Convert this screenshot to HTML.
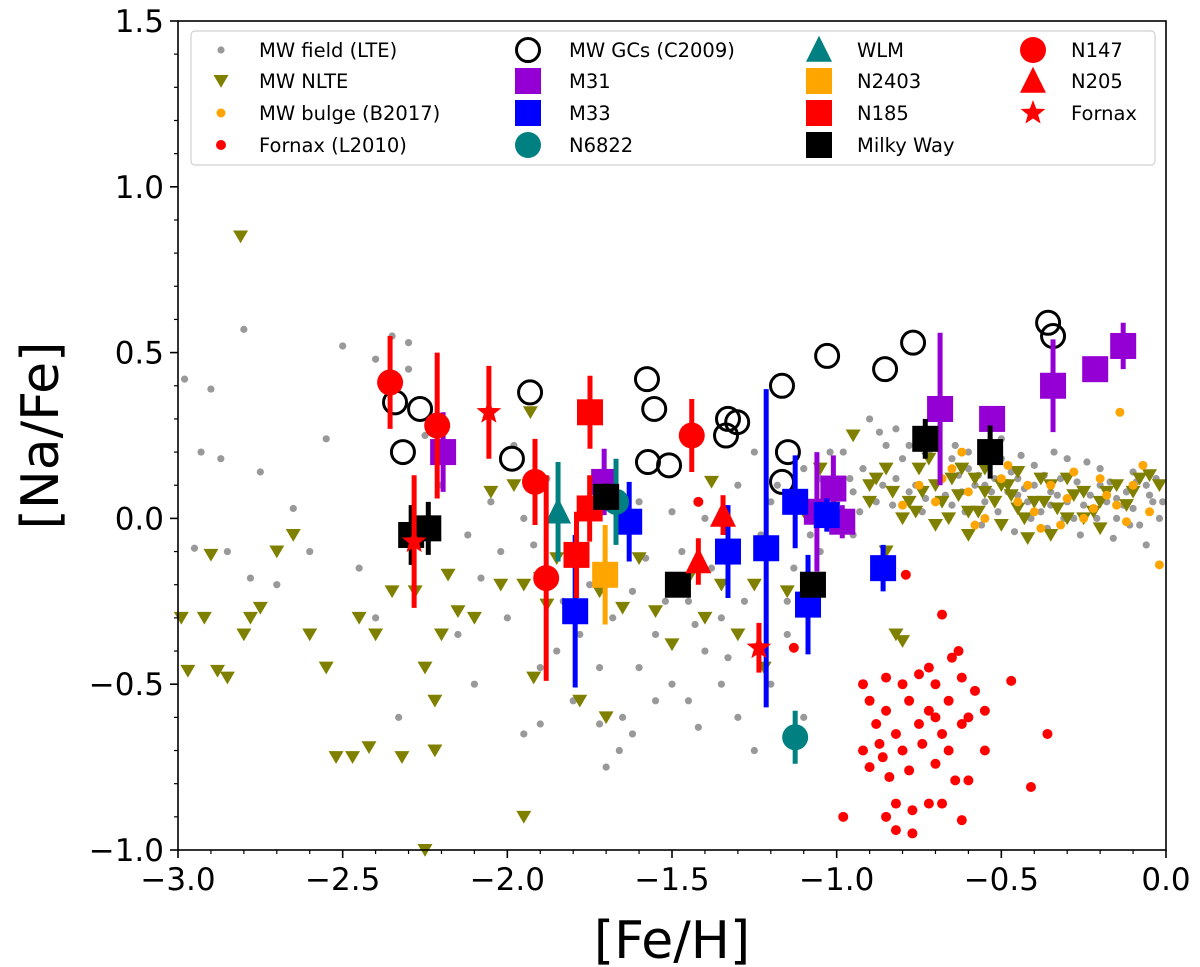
<!DOCTYPE html>
<html><head><meta charset="utf-8"><style>
body{margin:0;background:#fff}
svg{display:block;font-family:"DejaVu Sans","Liberation Sans",sans-serif}
</style></head><body>
<svg id="chart" width="1200" height="967" viewBox="0 0 1200 967">
<g id="marks"></g>
<g id="axes"></g>
<g id="legend"></g>
</svg>
<script>
const fieldLTE=[[-2.98,0.42],[-2.93,0.2],[-2.9,0.39],[-2.87,0.18],[-2.95,-0.09],[-2.85,-0.1],[-2.8,0.57],[-2.75,0.14],[-2.78,-0.18],[-2.7,-0.2],[-2.65,0.03],[-2.6,-0.1],[-2.55,0.24],[-2.5,0.52],[-2.45,-0.15],[-2.4,0.48],[-2.35,0.55],[-2.3,0.53],[-2.3,0.45],[-2.25,0.25],[-2.2,0.1],[-2.15,-0.35],[-2.1,-0.5],[-2.05,0.05],[-2.0,-0.3],[-1.98,0.22],[-1.95,-0.65],[-1.9,-0.45],[-1.85,-0.4],[-1.8,-0.55],[-1.75,-0.2],[-1.7,-0.75],[-1.65,-0.6],[-1.6,-0.45],[-1.55,-0.35],[-1.5,-0.5],[-1.45,-0.55],[-1.4,-0.4],[-1.35,-0.3],[-1.3,-0.6],[-1.25,-0.7],[-1.2,-0.5],[-1.15,-0.35],[-1.1,-0.6],[-2.12,-0.05],[-2.08,-0.18],[-2.02,-0.1],[-1.92,-0.08],[-1.88,0.12],[-1.83,-0.25],[-1.78,-0.35],[-1.72,-0.45],[-1.68,-0.3],[-1.62,-0.22],[-1.58,-0.12],[-1.52,-0.25],[-1.47,-0.1],[-1.43,-0.32],[-1.38,-0.15],[-1.33,-0.42],[-1.28,-0.25],[-1.23,-0.05],[-1.18,0.1],[-1.13,-0.15],[-1.08,-0.05],[-1.05,0.12],[-1.0,0.05],[-0.98,0.2],[-0.95,0.08],[-0.92,0.15],[-0.9,0.3],[-0.88,0.05],[-0.85,0.22],[-0.82,0.12],[-0.8,0.18],[-0.78,0.08],[-0.75,0.15],[-0.72,0.2],[-0.7,0.05],[-0.68,0.12],[-0.65,0.18],[-0.62,0.08],[-0.6,0.15],[-0.58,0.1],[-0.55,0.05],[-0.52,0.12],[-0.5,0.18],[-0.48,0.08],[-0.45,0.12],[-0.42,0.05],[-0.4,0.1],[-0.38,0.02],[-0.35,0.08],[-0.32,0.12],[-0.3,0.05],[-0.28,0.0],[-0.25,0.08],[-0.22,0.03],[-0.2,0.1],[-0.18,0.05],[-0.15,0.0],[-0.12,0.08],[-0.1,0.03],[-0.08,-0.02],[-0.06,0.1],[-0.04,0.05],[-0.02,0.0],[-0.66,0.0],[-0.56,-0.02],[-0.46,-0.04],[-0.36,-0.03],[-0.26,-0.05],[-0.16,-0.06],[-0.06,-0.08],[-0.7,0.22],[-0.6,0.2],[-0.5,0.24],[-0.4,0.16],[-0.3,0.18],[-0.2,0.15],[-0.1,0.14],[-0.87,0.26],[-1.62,-0.65],[-1.55,-0.55],[-1.42,-0.63],[-1.35,-0.5],[-1.72,-0.62],[-1.66,-0.7],[-1.9,-0.62],[-1.95,0.0],[-2.33,-0.6],[-2.4,-0.3],[-0.96,0.12],[-0.93,0.02],[-0.86,0.1],[-0.83,0.04],[-0.76,0.1],[-0.73,0.06],[-0.67,0.07],[-0.63,0.13],[-0.57,0.13],[-0.53,0.08],[-0.47,0.14],[-0.43,0.09],[-0.37,0.13],[-0.33,0.07],[-0.27,0.11],[-0.23,0.07],[-0.17,0.11],[-0.13,0.04],[-0.09,0.11],[-0.05,0.07],[-0.03,0.12],[-0.01,0.05],[-0.65,0.04],[-0.55,0.1],[-0.45,0.07],[-0.35,0.04],[-0.25,0.04],[-0.15,0.06],[-0.05,0.02],[-0.74,0.02],[-0.61,0.02],[-0.51,0.02],[-0.41,0.0],[-0.31,0.0],[-0.21,0.0],[-0.11,-0.02],[-0.64,0.22],[-0.54,0.19],[-0.44,0.19],[-0.34,0.2],[-0.24,0.17],[-0.82,0.27],[-0.78,0.22],[-1.02,0.2],[-1.1,0.15],[-1.2,0.05],[-1.25,0.2],[-1.3,0.1],[-1.4,0.0],[-1.5,0.02],[-1.6,0.05],[-1.45,-0.25],[-1.15,-0.25],[-1.05,-0.1],[-0.95,-0.05]];
const mwNLTE=[[-2.81,0.85],[-2.99,-0.3],[-2.97,-0.46],[-2.92,-0.3],[-2.9,-0.11],[-2.88,-0.46],[-2.85,-0.48],[-2.8,-0.35],[-2.78,-0.3],[-2.75,-0.27],[-2.7,-0.1],[-2.65,-0.05],[-2.6,-0.35],[-2.55,-0.45],[-2.52,-0.72],[-2.47,-0.72],[-2.42,-0.69],[-2.45,-0.3],[-2.4,-0.35],[-2.35,-0.22],[-2.32,-0.72],[-2.28,-0.22],[-2.25,-0.45],[-2.22,-0.55],[-2.2,-0.35],[-2.18,-0.17],[-2.15,-0.28],[-2.25,-1.0],[-2.22,-0.7],[-2.1,-0.3],[-2.05,0.08],[-2.02,-0.2],[-1.98,0.1],[-1.95,-0.2],[-1.92,-0.48],[-1.93,0.32],[-1.9,-0.18],[-1.88,-0.26],[-1.85,-0.12],[-1.95,-0.9],[-1.78,-0.55],[-1.72,-0.22],[-1.7,-0.6],[-1.65,-0.27],[-1.6,-0.12],[-1.55,-0.28],[-1.5,-0.38],[-1.45,-0.18],[-1.4,-0.3],[-1.38,0.11],[-1.35,-0.2],[-1.3,-0.35],[-1.25,-0.2],[-1.2,-0.1],[-1.15,-0.22],[-1.1,0.02],[-1.05,0.15],[-1.0,0.1],[-0.95,0.25],[-0.9,0.1],[-0.85,-0.1],[-0.8,-0.37],[-0.78,0.05],[-0.75,0.15],[-0.7,0.1],[-0.68,0.05],[-0.65,0.12],[-0.6,0.02],[-0.55,0.08],[-0.5,0.1],[-0.45,0.03],[-0.4,0.05],[-0.35,0.1],[-0.3,0.0],[-0.25,0.08],[-0.2,0.05],[-0.15,0.1],[-0.1,0.08],[-0.05,0.13],[-0.6,-0.05],[-0.9,0.05],[-0.85,0.15],[-0.72,0.18],[-0.62,0.15],[-0.45,0.14],[-0.38,0.12],[-0.3,0.12],[-0.35,-0.05],[-0.25,0.0],[-0.5,-0.02],[-0.8,0.0],[-0.7,-0.02],[-0.55,0.15],[-0.42,-0.06],[-0.2,-0.03],[-0.82,-0.35],[-1.22,-0.45],[-0.88,0.12],[-0.83,0.08],[-0.76,0.02],[-0.66,0.0],[-0.63,0.07],[-0.57,0.02],[-0.52,0.05],[-0.48,0.1],[-0.43,0.0],[-0.37,0.05],[-0.33,0.03],[-0.28,0.07],[-0.22,0.02],[-0.18,0.08],[-0.12,0.04],[-0.08,0.12],[-0.02,0.1],[-0.74,0.08],[-0.58,0.12],[-0.47,0.07]];
const bulge=[[-0.75,0.1],[-0.7,0.05],[-0.65,0.15],[-0.6,0.08],[-0.55,0.0],[-0.5,0.12],[-0.45,0.05],[-0.4,0.02],[-0.35,0.1],[-0.3,0.06],[-0.25,0.0],[-0.2,0.12],[-0.15,0.04],[-0.1,0.1],[-0.05,0.02],[-0.14,0.32],[-0.02,-0.14],[-0.07,0.16],[-0.62,0.2],[-0.48,0.16],[-0.32,-0.02],[-0.18,0.07],[-0.58,-0.02],[-0.42,0.1],[-0.28,0.14],[-0.12,-0.01],[-0.68,0.12],[-0.8,0.04],[-0.38,-0.03],[-0.22,0.03]];
const fornaxL=[[-0.79,-0.17],[-1.13,-0.39],[-1.42,0.05],[-0.68,-0.29],[-0.72,-0.45],[-0.65,-0.42],[-0.85,-0.48],[-0.8,-0.5],[-0.75,-0.47],[-0.7,-0.5],[-0.62,-0.48],[-0.58,-0.52],[-0.9,-0.55],[-0.85,-0.58],[-0.78,-0.55],[-0.72,-0.58],[-0.66,-0.55],[-0.6,-0.6],[-0.88,-0.62],[-0.82,-0.65],[-0.75,-0.62],[-0.68,-0.65],[-0.62,-0.62],[-0.92,-0.7],[-0.86,-0.72],[-0.8,-0.7],[-0.74,-0.68],[-0.66,-0.7],[-0.55,-0.7],[-0.9,-0.75],[-0.84,-0.78],[-0.78,-0.76],[-0.7,-0.74],[-0.64,-0.79],[-0.6,-0.79],[-0.82,-0.86],[-0.72,-0.86],[-0.68,-0.86],[-0.85,-0.9],[-0.77,-0.88],[-0.62,-0.91],[-0.98,-0.9],[-0.82,-0.94],[-0.77,-0.95],[-0.47,-0.49],[-0.36,-0.65],[-0.41,-0.81],[-0.55,-0.58],[-0.7,-0.6],[-0.87,-0.68],[-0.63,-0.4],[-0.92,-0.5]];
const gcs=[[-2.341,0.35],[-2.317,0.2],[-2.265,0.33],[-1.986,0.18],[-1.931,0.38],[-1.576,0.42],[-1.554,0.33],[-1.573,0.17],[-1.509,0.16],[-1.33,0.3],[-1.302,0.29],[-1.336,0.25],[-1.166,0.4],[-1.148,0.2],[-1.166,0.11],[-1.029,0.49],[-0.853,0.45],[-0.768,0.53],[-0.358,0.59],[-0.343,0.55]];
// [feh, nafe, err]
const m31=[[-2.195,0.2,0.12],[-1.706,0.11,0.1],[-1.06,0.02,0.18],[-1.01,0.09,0.1],[-0.983,-0.01,0.05],[-0.686,0.33,0.23],[-0.528,0.3,0.03],[-0.343,0.4,0.14],[-0.215,0.45,0.02],[-0.13,0.52,0.07]];
const m33=[[-1.794,-0.28,0.23],[-1.63,-0.01,0.12],[-1.33,-0.1,0.14],[-1.214,-0.09,0.48],[-1.126,0.05,0.14],[-1.087,-0.26,0.15],[-1.03,0.01,0.05],[-0.859,-0.15,0.07]];
const n6822=[[-1.67,0.05,0.13],[-1.126,-0.66,0.08]];
const wlm=[[-1.846,0.02,0.15]];
const n2403=[[-1.703,-0.17,0.15]];
const n185=[[-1.749,0.32,0.11],[-1.79,-0.11,0.13],[-1.75,0.03,0.1]];
const milkyWay=[[-2.292,-0.05,0.09],[-2.24,-0.03,0.08],[-1.7,0.065,0.04],[-1.482,-0.2,0.03],[-1.072,-0.2,0.03],[-0.731,0.24,0.06],[-0.534,0.2,0.08]];
const n147=[[-2.356,0.41,0.14],[-2.213,0.28,0.22],[-1.916,0.11,0.13],[-1.882,-0.18,0.31],[-1.44,0.25,0.11]];
const n205=[[-1.345,0.01,0.06],[-1.42,-0.13,0.07]];
const fornaxS=[[-2.283,-0.07,0.2],[-2.056,0.32,0.14],[-1.236,-0.39,0.075]];
const xTicks=[-3.0,-2.5,-2.0,-1.5,-1.0,-0.5,0.0];
const xTickLabels=["\u22123.0","\u22122.5","\u22122.0","\u22121.5","\u22121.0","\u22120.5","0.0"];
const yTicks=[-1.0,-0.5,0.0,0.5,1.0,1.5];
const yTickLabels=["\u22121.0","\u22120.5","0.0","0.5","1.0","1.5"];

const L=178,R=1166,T=21,B=850;
const X=v=>L+(v+3)/3*(R-L);
const Y=v=>B-(v+1)/2.5*(B-T);
const NS="http://www.w3.org/2000/svg";
function mk(tag,parent,attrs){const e=document.createElementNS(NS,tag);for(const k in attrs)e.setAttribute(k,attrs[k]);parent.appendChild(e);return e;}
const marks=document.getElementById('marks');
const axes=document.getElementById('axes');
const legend=document.getElementById('legend');
const C={grey:'#999999',olive:'#808000',orange:'#ffa500',red:'#ff0000',purple:'#9400d3',blue:'#0000ff',teal:'#008080',black:'#000000'};

function shape(g,kind,cx,cy,s,color){
  let e;
  if(kind==='dot'||kind==='circle'){e=mk('circle',g,{cx:cx,cy:cy,r:s,fill:color});}
  else if(kind==='ring'){e=mk('circle',g,{cx:cx,cy:cy,r:s,fill:'none',stroke:'#000','stroke-width':3});}
  else if(kind==='square'){e=mk('rect',g,{x:cx-s,y:cy-s,width:2*s,height:2*s,fill:color});}
  else if(kind==='tridown'){e=mk('polygon',g,{points:`${cx-s},${cy-s*0.8} ${cx+s},${cy-s*0.8} ${cx},${cy+s*0.9}`,fill:color});}
  else if(kind==='triup'){e=mk('polygon',g,{points:`${cx-s},${cy+s*0.9} ${cx+s},${cy+s*0.9} ${cx},${cy-s*1.1}`,fill:color});}
  else if(kind==='star'){let p=[];for(let i=0;i<10;i++){const a=-Math.PI/2+i*Math.PI/5;const r=i%2?s*0.42:s;p.push((cx+r*Math.cos(a)).toFixed(1)+','+(cy+r*Math.sin(a)).toFixed(1));}e=mk('polygon',g,{points:p.join(' '),fill:color});}
  return e;
}

function plain(arr,kind,s,color,name){
  const g=mk('g',marks,{});
  
  
  arr.forEach(d=>{const e=shape(g,kind,X(d[0]),Y(d[1]),s,color);
    
    });
}
function witherr(arr,kind,s,color,name){
  const g=mk('g',marks,{});
  
  
  arr.forEach(d=>{
    const l=mk('line',g,{x1:X(d[0]),x2:X(d[0]),y1:Y(d[1]-d[2]),y2:Y(d[1]+d[2]),stroke:color,'stroke-width':5});
    
    
    const e=shape(g,kind,X(d[0]),Y(d[1]),s,color);
    
    
  });
}
plain(fieldLTE,'dot',3.6,C.grey,'mw-field-lte');
plain(mwNLTE,'tridown',7.5,C.olive,'mw-nlte');
plain(bulge,'dot',4.5,C.orange,'mw-bulge');
plain(fornaxL,'dot',5,C.red,'fornax-l2010');
plain(gcs,'ring',11.5,'#000','mw-gcs');
witherr(m31,'square',13,C.purple,'m31');
witherr(m33,'square',13,C.blue,'m33');
witherr(n6822,'circle',13,C.teal,'n6822');
witherr(wlm,'triup',13,C.teal,'wlm');
witherr(n2403,'square',13,C.orange,'n2403');
witherr(n185,'square',13,C.red,'n185');
witherr(milkyWay,'square',13,C.black,'milky-way');
witherr(n147,'circle',13,C.red,'n147');
witherr(n205,'triup',13,C.red,'n205');
witherr(fornaxS,'star',13,C.red,'fornax');

mk('rect',axes,{x:L,y:T,width:R-L,height:B-T,fill:'none',stroke:'#000','stroke-width':1.6});
xTicks.forEach((v,i)=>{
  mk('line',axes,{x1:X(v),x2:X(v),y1:B,y2:B+8,stroke:'#000','stroke-width':1.6});
  const t=mk('text',axes,{x:X(v),y:B+40,'font-size':31,'text-anchor':'middle'});t.textContent=xTickLabels[i];
  
  
});
for(let k=-30;k<=0;k++){const v=k/10;if(k%5)mk('line',axes,{x1:X(v),x2:X(v),y1:B,y2:B+4,stroke:'#000','stroke-width':1.2});}
yTicks.forEach((v,i)=>{
  mk('line',axes,{x1:L-8,x2:L,y1:Y(v),y2:Y(v),stroke:'#000','stroke-width':1.6});
  const t=mk('text',axes,{x:L-14,y:Y(v)+11,'font-size':31,'text-anchor':'end'});t.textContent=yTickLabels[i];
  
  
});
for(let k=-10;k<=15;k++){const v=k/10;if(k%5)mk('line',axes,{x1:L-4,x2:L,y1:Y(v),y2:Y(v),stroke:'#000','stroke-width':1.2});}
const xt=mk('text',axes,{x:(L+R)/2,y:958,'font-size':52,'text-anchor':'middle'});xt.textContent='[Fe/H]';


const yt=mk('text',axes,{x:0,y:0,'font-size':52,'text-anchor':'middle',transform:`translate(58,${(T+B)/2}) rotate(-90)`});yt.textContent='[Na/Fe]';



mk('rect',legend,{x:191,y:31,width:964,height:134,rx:4,fill:'#fff','fill-opacity':0.85,stroke:'#d0d0d0','stroke-width':1.2});
const legItems=[
 [221,50,'dot',3.6,C.grey,'MW field (LTE)'],[221,81,'tridown',7.5,C.olive,'MW NLTE'],[221,113,'dot',4.5,C.orange,'MW bulge (B2017)'],[221,145,'dot',5,C.red,'Fornax (L2010)'],
 [528,50,'ring',11.5,'#000','MW GCs (C2009)'],[528,81,'square',13,C.purple,'M31'],[528,113,'square',13,C.blue,'M33'],[528,145,'circle',13,C.teal,'N6822'],
 [819,50,'triup',13,C.teal,'WLM'],[819,81,'square',13,C.orange,'N2403'],[819,113,'square',13,C.red,'N185'],[819,145,'square',13,C.black,'Milky Way'],
 [1033,50,'circle',13,C.red,'N147'],[1033,81,'triup',13,C.red,'N205'],[1033,113,'star',13,C.red,'Fornax']];
const txOff={221:38,528:41,819:38,1033:38};
legItems.forEach(it=>{
  const g=mk('g',legend,{});
  
  
  shape(g,it[2],it[0],it[1],it[3],it[4]);
  const t=mk('text',g,{x:it[0]+txOff[it[0]],y:it[1]+7,'font-size':19.5});t.textContent=it[5];
});
</script>
</body></html>
